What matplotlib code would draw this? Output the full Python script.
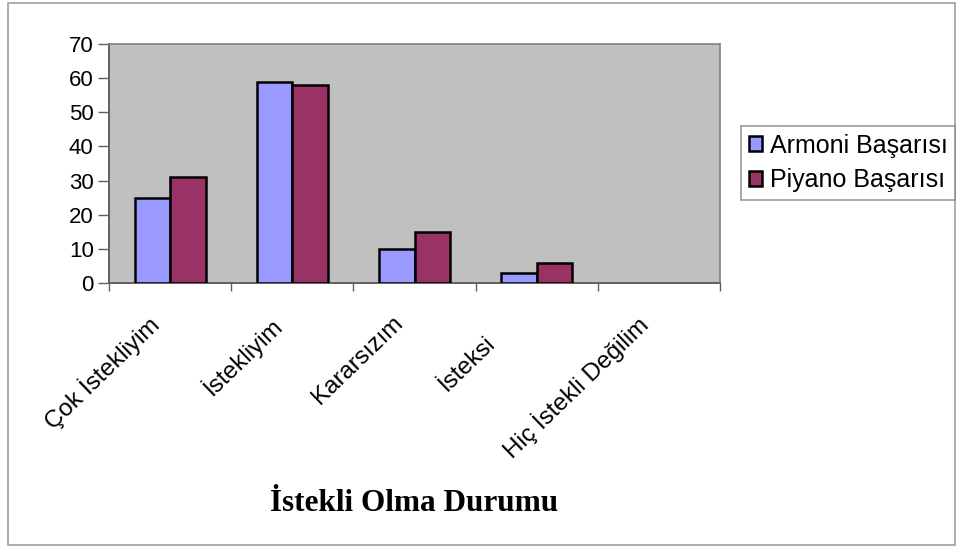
import matplotlib
matplotlib.use("Agg")
import matplotlib.pyplot as plt
import numpy as np
from matplotlib.patches import Rectangle
from matplotlib.transforms import ScaledTranslation

categories = ["Çok İstekliyim", "İstekliyim", "Kararsızım", "İsteksi", "Hiç İstekli Değilim"]
armoni = [25, 59, 10, 3, 0]
piyano = [31, 58, 15, 6, 0]
series_names = ["Armoni Başarısı", "Piyano Başarısı"]
yticks = [0, 10, 20, 30, 40, 50, 60, 70]
xlabel = "İstekli Olma Durumu"

plt.rcParams['font.family'] = ['Liberation Sans', 'DejaVu Sans']

fig = plt.figure(figsize=(9.6, 5.47), dpi=100)
ax = fig.add_axes([109/960, 1-283/547, (720-109)/960, (283-44)/547])
ax.set_facecolor('#C0C0C0')

x = np.arange(len(categories))
w = 0.29
for vals, off, col, name in [(armoni, -w/2, '#9999FF', series_names[0]),
                             (piyano, w/2, '#993366', series_names[1])]:
    edges = ['black' if v > 0 else 'none' for v in vals]
    ax.bar(x + off, vals, w, color=col, edgecolor=edges, linewidth=1.8, label=name, zorder=3)

ax.set_xlim(-0.5, len(categories) - 0.5)
ax.set_ylim(0, 70)
ax.set_yticks(yticks)
ax.set_yticklabels([str(v) for v in yticks], fontsize=16)
ax.set_xticks(np.arange(len(categories) + 1) - 0.5, minor=False)
ax.set_xticklabels([])
ax.set_xticks(x, minor=True)
ax.set_xticklabels(categories, minor=True, rotation=44, ha='right', va='top',
                   rotation_mode='anchor', fontsize=17.5)
ax.tick_params(axis='x', which='minor', length=0, pad=21)
ax.tick_params(axis='x', which='major', length=6, width=1, color='#606060', direction='out')
ax.tick_params(axis='y', length=8, width=1, color='#606060', direction='out', pad=3)

for i, lab in enumerate(ax.get_xticklabels(minor=True)):
    dx, dy = -23/100, 0
    if lab.get_text() == "İsteksi":
        dx, dy = -52/100, -20/100
    lab.set_transform(lab.get_transform() + ScaledTranslation(dx, dy, fig.dpi_scale_trans))

for s in ['top', 'right']:
    ax.spines[s].set_color('#808080')
    ax.spines[s].set_linewidth(1.2)
for s in ['left', 'bottom']:
    ax.spines[s].set_color('#606060')
    ax.spines[s].set_linewidth(1.4)

ax.set_xlabel(xlabel, family=['Liberation Serif', 'DejaVu Serif'], fontweight='bold',
              fontsize=22.5, va='baseline')
ax.xaxis.set_label_coords(0.5, -(511-283)/239)

leg = fig.legend(loc='upper left', bbox_to_anchor=(741/960, 1-126/547), fontsize=18,
                 frameon=True, fancybox=False, edgecolor='#808080', handlelength=0.55,
                 handleheight=0.55, handletextpad=0.3, borderpad=0.3, labelspacing=0.42,
                 borderaxespad=0)
leg.get_frame().set_linewidth(1.2)

fig.patches.append(Rectangle((8/960, 1-545/547), (955-8)/960, (545-3)/547,
                             transform=fig.transFigure, fill=False,
                             edgecolor='#A0A0A0', linewidth=1.2))

fig.savefig('out.png', dpi=100, facecolor='white')
